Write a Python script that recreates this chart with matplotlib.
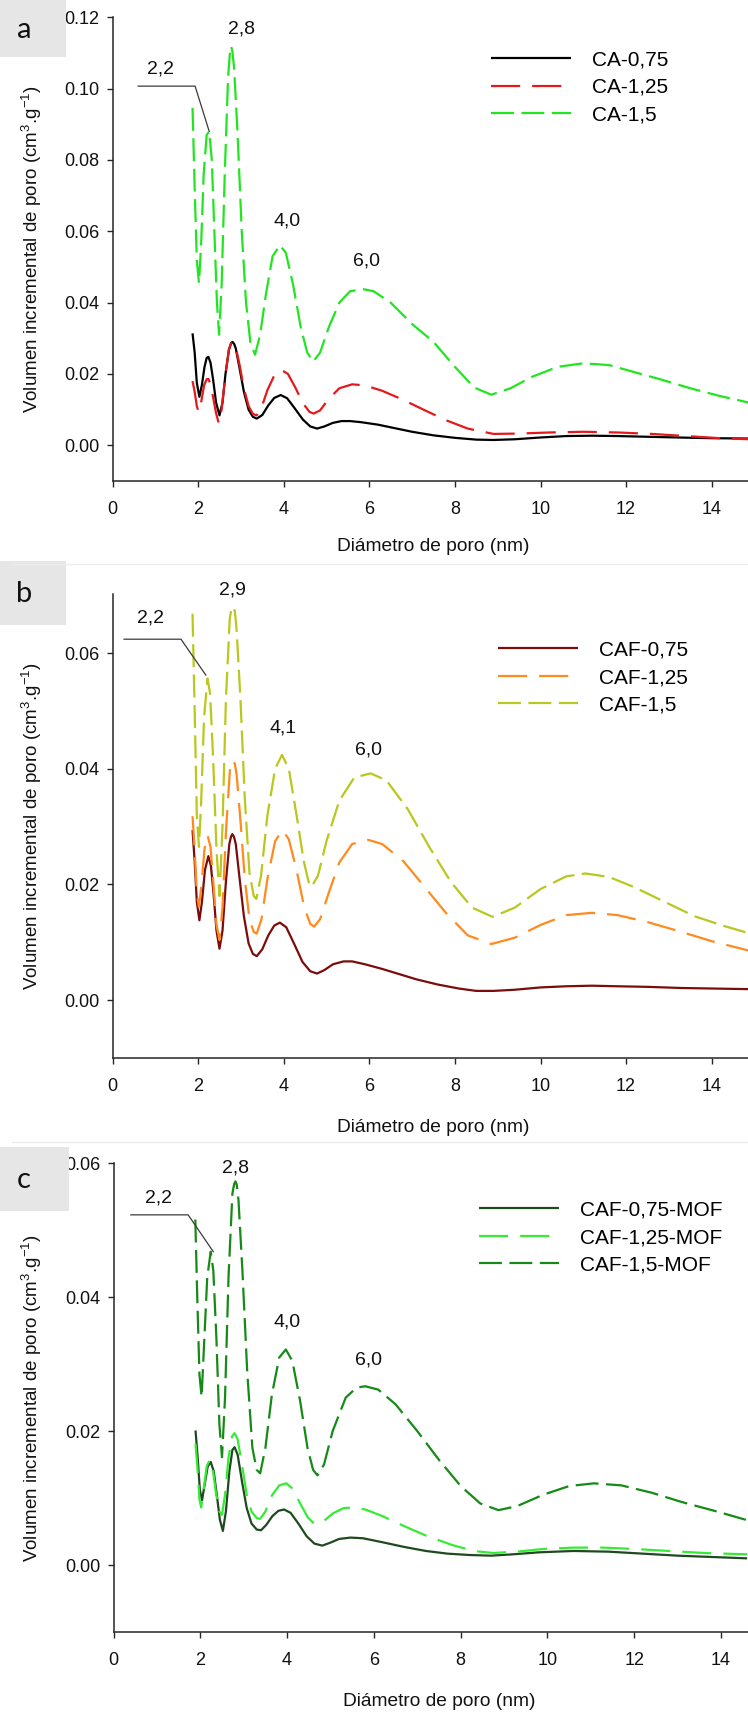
import matplotlib
matplotlib.use("Agg")
import matplotlib.pyplot as plt
from matplotlib.lines import Line2D
from matplotlib.patches import Rectangle

plt.rcParams['font.family'] = ['Liberation Sans', 'DejaVu Sans']
plt.rcParams['mathtext.fontset'] = 'custom'
plt.rcParams['mathtext.rm'] = 'Liberation Sans'
plt.rcParams['mathtext.it'] = 'Liberation Sans:italic'
plt.rcParams['lines.scale_dashes'] = False

# ---------- datos ----------
# panel a
ca075_x = [1.87, 1.92, 1.97, 2.03, 2.09, 2.15, 2.20, 2.24, 2.29, 2.35, 2.42, 2.50, 2.57, 2.64, 2.72,
           2.77, 2.80, 2.84, 2.88, 2.97, 3.07, 3.18, 3.28, 3.37, 3.50, 3.64, 3.78, 3.93, 4.08, 4.25,
           4.45, 4.62, 4.78, 4.95, 5.15, 5.35, 5.55, 5.80, 6.20, 6.60, 7.00, 7.50, 8.00, 8.50, 8.90,
           9.40, 10.0, 10.6, 11.2, 11.8, 12.5, 13.2, 14.0, 14.9]
ca075_y = [0.0314, 0.0260, 0.0175, 0.0136, 0.0170, 0.0220, 0.0245, 0.0248, 0.0232, 0.0185, 0.0120,
           0.0084, 0.0120, 0.0200, 0.0268, 0.0286, 0.0290, 0.0285, 0.0272, 0.0215, 0.0150, 0.0100,
           0.0080, 0.0075, 0.0085, 0.0112, 0.0133, 0.0141, 0.0132, 0.0105, 0.0072, 0.0053, 0.0047,
           0.0053, 0.0063, 0.0068, 0.0068, 0.0065, 0.0058, 0.0048, 0.0038, 0.0028, 0.0021, 0.0016,
           0.0015, 0.0017, 0.0022, 0.0026, 0.0027, 0.0026, 0.0024, 0.0022, 0.0020, 0.0019]

ca125_x = [1.87, 1.92, 1.97, 2.01, 2.07, 2.14, 2.20, 2.24, 2.29, 2.35, 2.42, 2.48, 2.55, 2.63, 2.72,
           2.77, 2.80, 2.84, 2.88, 2.97, 3.07, 3.18, 3.28, 3.37, 3.48, 3.62, 3.78, 3.95, 4.10, 4.28,
           4.45, 4.60, 4.70, 4.85, 5.05, 5.30, 5.60, 5.90, 6.30, 6.80, 7.30, 7.80, 8.30, 8.90, 9.50,
           10.2, 11.0, 11.8, 12.6, 13.4, 14.2, 14.9]
ca125_y = [0.0180, 0.0150, 0.0110, 0.0094, 0.0120, 0.0168, 0.0185, 0.0186, 0.0172, 0.0135, 0.0090,
           0.0063, 0.0100, 0.0190, 0.0268, 0.0286, 0.0290, 0.0286, 0.0275, 0.0225, 0.0160, 0.0110,
           0.0088, 0.0084, 0.0105, 0.0155, 0.0196, 0.0211, 0.0200, 0.0160, 0.0118, 0.0094, 0.0089,
           0.0098, 0.0130, 0.0160, 0.0171, 0.0168, 0.0153, 0.0127, 0.0098, 0.0070, 0.0047, 0.0032,
           0.0033, 0.0036, 0.0038, 0.0036, 0.0032, 0.0026, 0.0020, 0.0017]

ca15_x = [1.87, 1.92, 1.97, 2.02, 2.07, 2.13, 2.20, 2.26, 2.32, 2.38, 2.44, 2.49, 2.55, 2.62, 2.70,
          2.74, 2.77, 2.80, 2.84, 2.92, 3.02, 3.12, 3.22, 3.33, 3.45, 3.58, 3.74, 3.91, 4.05, 4.22,
          4.40, 4.55, 4.69, 4.85, 5.05, 5.30, 5.55, 5.85, 6.10, 6.50, 7.00, 7.50, 8.00, 8.45, 8.85,
          9.30, 9.80, 10.4, 11.0, 11.6, 12.2, 12.8, 13.5, 14.2, 14.9]
ca15_y = [0.0946, 0.0720, 0.0520, 0.0455, 0.0560, 0.0760, 0.0870, 0.0880, 0.0800, 0.0600, 0.0400,
          0.0310, 0.0450, 0.0750, 0.1030, 0.1095, 0.1119, 0.1105, 0.1060, 0.0880, 0.0600, 0.0400,
          0.0290, 0.0254, 0.0310, 0.0420, 0.0530, 0.0561, 0.0540, 0.0450, 0.0330, 0.0260, 0.0235,
          0.0260, 0.0330, 0.0400, 0.0432, 0.0438, 0.0432, 0.0400, 0.0340, 0.0290, 0.0220, 0.0162,
          0.0142, 0.0160, 0.0192, 0.0220, 0.0230, 0.0225, 0.0205, 0.0185, 0.0160, 0.0138, 0.0119]

# panel b
caf075_x = [1.87, 1.92, 1.97, 2.03, 2.09, 2.16, 2.24, 2.30, 2.36, 2.43, 2.50, 2.57, 2.65, 2.73, 2.77,
            2.80, 2.84, 2.88, 2.97, 3.07, 3.18, 3.28, 3.37, 3.50, 3.64, 3.78, 3.91, 4.06, 4.24, 4.44,
            4.62, 4.78, 4.95, 5.15, 5.40, 5.60, 5.90, 6.30, 6.70, 7.10, 7.60, 8.10, 8.50, 8.90, 9.40,
            10.0, 10.6, 11.2, 11.8, 12.5, 13.3, 14.1, 14.9]
caf075_y = [0.0294, 0.0240, 0.0170, 0.0138, 0.0170, 0.0225, 0.0249, 0.0232, 0.0185, 0.0120, 0.0089,
            0.0120, 0.0205, 0.0270, 0.0283, 0.0287, 0.0282, 0.0270, 0.0210, 0.0145, 0.0098, 0.0080,
            0.0076, 0.0088, 0.0112, 0.0129, 0.0134, 0.0126, 0.0098, 0.0066, 0.0050, 0.0046, 0.0052,
            0.0062, 0.0067, 0.0067, 0.0062, 0.0054, 0.0045, 0.0036, 0.0027, 0.0020, 0.0016, 0.0016,
            0.0018, 0.0022, 0.0024, 0.0025, 0.0024, 0.0023, 0.0021, 0.0020, 0.0019]

caf125_x = [1.87, 1.92, 1.97, 2.02, 2.08, 2.15, 2.22, 2.29, 2.36, 2.43, 2.50, 2.57, 2.65, 2.74, 2.78,
            2.82, 2.86, 2.90, 2.99, 3.09, 3.20, 3.30, 3.37, 3.48, 3.62, 3.80, 3.97, 4.12, 4.30, 4.48,
            4.62, 4.71, 4.85, 5.05, 5.30, 5.60, 5.98, 6.30, 6.80, 7.30, 7.80, 8.30, 8.85, 9.40, 10.0,
            10.6, 11.2, 11.8, 12.5, 13.2, 14.0, 14.9]
caf125_y = [0.0318, 0.0260, 0.0185, 0.0161, 0.0200, 0.0262, 0.0285, 0.0265, 0.0200, 0.0130, 0.0104,
            0.0160, 0.0290, 0.0395, 0.0410, 0.0415, 0.0408, 0.0390, 0.0310, 0.0210, 0.0140, 0.0118,
            0.0115, 0.0140, 0.0210, 0.0275, 0.0294, 0.0278, 0.0225, 0.0160, 0.0132, 0.0127, 0.0140,
            0.0185, 0.0238, 0.0270, 0.0277, 0.0270, 0.0240, 0.0195, 0.0150, 0.0112, 0.0097, 0.0108,
            0.0130, 0.0147, 0.0151, 0.0147, 0.0135, 0.0120, 0.0102, 0.0085]

caf15_x = [1.87, 1.92, 1.97, 2.02, 2.07, 2.14, 2.22, 2.28, 2.35, 2.43, 2.50, 2.57, 2.65, 2.74, 2.78,
           2.82, 2.86, 2.90, 2.99, 3.09, 3.20, 3.30, 3.36, 3.47, 3.62, 3.80, 3.96, 4.12, 4.30, 4.47,
           4.58, 4.65, 4.80, 5.00, 5.30, 5.65, 6.03, 6.40, 6.90, 7.40, 7.90, 8.40, 8.88, 9.40, 10.0,
           10.6, 11.05, 11.6, 12.2, 12.9, 13.6, 14.3, 14.9]
caf15_y = [0.0668, 0.0500, 0.0320, 0.0265, 0.0340, 0.0490, 0.0556, 0.0530, 0.0420, 0.0260, 0.0180,
           0.0300, 0.0520, 0.0660, 0.0676, 0.0680, 0.0672, 0.0640, 0.0520, 0.0350, 0.0220, 0.0180,
           0.0175, 0.0215, 0.0320, 0.0400, 0.0424, 0.0400, 0.0320, 0.0240, 0.0205, 0.0196, 0.0215,
           0.0275, 0.0345, 0.0385, 0.0392, 0.0380, 0.0330, 0.0265, 0.0205, 0.0160, 0.0144, 0.0160,
           0.0192, 0.0214, 0.0219, 0.0213, 0.0195, 0.0170, 0.0145, 0.0128, 0.0115]

# panel c
mof075_x = [1.89, 1.94, 1.99, 2.04, 2.10, 2.17, 2.24, 2.31, 2.38, 2.45, 2.52, 2.59, 2.67, 2.74, 2.79,
            2.86, 2.96, 3.07, 3.18, 3.30, 3.40, 3.52, 3.66, 3.80, 3.93, 4.08, 4.26, 4.45, 4.63, 4.81,
            4.98, 5.20, 5.46, 5.75, 6.20, 6.70, 7.20, 7.70, 8.20, 8.70, 9.20, 9.80, 10.6, 11.4, 12.2,
            13.0, 13.8, 14.6]
mof075_y = [0.0201, 0.0160, 0.0112, 0.0097, 0.0120, 0.0147, 0.0154, 0.0140, 0.0105, 0.0068, 0.0051,
            0.0080, 0.0140, 0.0172, 0.0176, 0.0165, 0.0125, 0.0085, 0.0062, 0.0053, 0.0052, 0.0060,
            0.0073, 0.0081, 0.0083, 0.0078, 0.0062, 0.0043, 0.0032, 0.0029, 0.0033, 0.0039, 0.0041,
            0.0040, 0.0034, 0.0027, 0.0021, 0.0017, 0.0015, 0.0014, 0.0016, 0.0019, 0.0021, 0.0020,
            0.0017, 0.0014, 0.0012, 0.0010]

mof125_x = [1.89, 1.94, 1.98, 2.02, 2.08, 2.15, 2.22, 2.29, 2.36, 2.44, 2.50, 2.57, 2.65, 2.73, 2.79,
            2.86, 2.96, 3.07, 3.18, 3.30, 3.38, 3.50, 3.65, 3.82, 3.98, 4.13, 4.30, 4.48, 4.62, 4.70,
            4.85, 5.05, 5.30, 5.52, 5.80, 6.20, 6.70, 7.20, 7.80, 8.30, 8.75, 9.30, 9.90, 10.6, 11.3,
            12.0, 12.8, 13.6, 14.6]
mof125_y = [0.0181, 0.0140, 0.0098, 0.0086, 0.0115, 0.0148, 0.0157, 0.0142, 0.0108, 0.0080, 0.0075,
            0.0105, 0.0160, 0.0192, 0.0197, 0.0188, 0.0150, 0.0105, 0.0080, 0.0070, 0.0069, 0.0080,
            0.0104, 0.0119, 0.0122, 0.0114, 0.0092, 0.0071, 0.0062, 0.0061, 0.0066, 0.0077, 0.0085,
            0.0086, 0.0083, 0.0073, 0.0058, 0.0044, 0.0030, 0.0021, 0.0018, 0.0020, 0.0024, 0.0026,
            0.0026, 0.0024, 0.0021, 0.0018, 0.0016]

mof15_x = [1.885, 1.93, 1.98, 2.03, 2.08, 2.16, 2.24, 2.30, 2.37, 2.44, 2.50, 2.57, 2.65, 2.74, 2.78,
           2.81, 2.84, 2.88, 2.97, 3.08, 3.20, 3.30, 3.38, 3.50, 3.65, 3.82, 3.97, 4.12, 4.30, 4.47,
           4.60, 4.70, 4.85, 5.05, 5.35, 5.60, 5.80, 6.10, 6.50, 7.00, 7.50, 8.00, 8.45, 8.87, 9.30,
           9.90, 10.5, 11.07, 11.7, 12.4, 13.1, 13.9, 14.6]
mof15_y = [0.0516, 0.0400, 0.0285, 0.0251, 0.0320, 0.0430, 0.0468, 0.0440, 0.0340, 0.0210, 0.0161,
           0.0250, 0.0430, 0.0555, 0.0569, 0.0573, 0.0568, 0.0545, 0.0440, 0.0290, 0.0175, 0.0142,
           0.0137, 0.0175, 0.0255, 0.0310, 0.0322, 0.0305, 0.0245, 0.0175, 0.0142, 0.0134, 0.0150,
           0.0200, 0.0250, 0.0265, 0.0267, 0.0262, 0.0240, 0.0200, 0.0157, 0.0118, 0.0092, 0.0082,
           0.0088, 0.0105, 0.0118, 0.0122, 0.0119, 0.0108, 0.0094, 0.0080, 0.0067]

# etiquetas de picos y líneas guía
a_pk_txt = ["2,2", "2,8", "4,0", "6,0"]
a_pk_x = [1.13, 3.02, 4.07, 5.94]
a_pk_y = [0.1055, 0.1166, 0.0630, 0.0517]
a_lead_x = [0.60, 1.93, 2.26]
a_lead_y = [0.1007, 0.1007, 0.0880]

b_pk_txt = ["2,2", "2,9", "4,1", "6,0"]
b_pk_x = [0.88, 2.80, 3.98, 5.98]
b_pk_y = [0.0660, 0.0709, 0.0471, 0.0432]
b_lead_x = [0.27, 1.60, 2.18]
b_lead_y = [0.0624, 0.0624, 0.0562]

c_pk_txt = ["2,2", "2,8", "4,0", "6,0"]
c_pk_x = [1.03, 2.82, 4.00, 5.88]
c_pk_y = [0.0548, 0.0593, 0.0363, 0.0306]
c_lead_x = [0.40, 1.72, 2.30]
c_lead_y = [0.0523, 0.0523, 0.0468]

a_labels = ["CA-0,75", "CA-1,25", "CA-1,5"]
b_labels = ["CAF-0,75", "CAF-1,25", "CAF-1,5"]
c_labels = ["CAF-0,75-MOF", "CAF-1,25-MOF", "CAF-1,5-MOF"]
# ------------------------------------------------

W, H = 748, 1713
fig = plt.figure(figsize=(W / 100, H / 100), dpi=100)

SOLID = (None, None)
DASH_M = (21, 8.6)      # serie 1,25
DASH_S = (16.5, 5.4)    # serie 1,5


def add_ax(left, top, right, bottom):
    return fig.add_axes([left / W, 1 - bottom / H, (right - left) / W, (bottom - top) / H])


def panel(ax, series, labels, ylim, yticks, pk, lead, leg_xy, xlab_y):
    for (x, y, col, dash), lab in zip(series, labels):
        ln, = ax.plot(x, y, color=col, lw=1.6, label=lab, solid_capstyle='butt')
        if dash[0] is not None:
            ln.set_dashes(dash)
    ax.set_xlim(0, 15)
    ax.set_ylim(*ylim)
    ax.set_xticks(range(0, 15, 2))
    ax.set_yticks(yticks)
    ax.set_yticklabels([f"{t:.2f}" for t in yticks])
    for s in ("top", "right"):
        ax.spines[s].set_visible(False)
    for s in ("left", "bottom"):
        ax.spines[s].set_color("#262626")
        ax.spines[s].set_linewidth(1.1)
    ax.tick_params(axis="both", direction="out", length=4.6, width=1.0, color="#262626",
                   labelsize=13, labelcolor="#111111")
    ax.tick_params(axis="x", pad=9.5)
    ax.tick_params(axis="y", pad=5.0)
    ax.set_xlabel("Diámetro de poro (nm)", fontsize=13.8, color="#111111")
    ax.xaxis.set_label_coords(0.5, xlab_y)
    ax.xaxis.label.set_va("center")
    ax.set_ylabel("Volumen incremental de poro (cm$^{3}$.g$^{-1}$)", fontsize=13.5, color="#111111")
    ax.yaxis.set_label_coords(-0.1254, 0.5)
    ax.yaxis.label.set_va("center")
    txt, tx, ty = pk
    for t, xx, yy in zip(txt, tx, ty):
        ax.text(xx, yy, t, ha="center", va="center", fontsize=14, color="#111111", clip_on=False)
    ax.plot(lead[0], lead[1], color="#3a3a3a", lw=0.9, clip_on=False)
    ax.legend(loc="center left", bbox_to_anchor=(leg_xy[0] / W, 1 - leg_xy[1] / H),
              bbox_transform=fig.transFigure, frameon=False, fontsize=15,
              handlelength=3.85, handletextpad=0.98, labelspacing=0.40,
              borderpad=0, borderaxespad=0)


axa = add_ax(112.5, 17.3, 754.5, 481)
panel(axa,
      [(ca075_x, ca075_y, "#000000", SOLID),
       (ca125_x, ca125_y, "#e3191c", DASH_M),
       (ca15_x, ca15_y, "#22e522", DASH_S)],
      a_labels, (-0.01, 0.12), [0.00, 0.02, 0.04, 0.06, 0.08, 0.10, 0.12],
      (a_pk_txt, a_pk_x, a_pk_y), (a_lead_x, a_lead_y), (491, 87.5), -0.1423)

axb = add_ax(112.5, 593.5, 754.5, 1058)
panel(axb,
      [(caf075_x, caf075_y, "#7b0c0c", SOLID),
       (caf125_x, caf125_y, "#ff8a1e", DASH_M),
       (caf15_x, caf15_y, "#b9c81c", DASH_S)],
      b_labels, (-0.01, 0.0703), [0.00, 0.02, 0.04, 0.06],
      (b_pk_txt, b_pk_x, b_pk_y), (b_lead_x, b_lead_y), (498, 677.5), -0.1487)

axc = add_ax(113.5, 1163.3, 764.5, 1632)
panel(axc,
      [(mof075_x, mof075_y, "#1e4a1e", SOLID),
       (mof125_x, mof125_y, "#35ec35", DASH_M),
       (mof15_x, mof15_y, "#168a16", DASH_S)],
      c_labels, (-0.01, 0.06), [0.00, 0.02, 0.04, 0.06],
      (c_pk_txt, c_pk_x, c_pk_y), (c_lead_x, c_lead_y), (479, 1237.5), -0.1490)
axc.yaxis.set_label_coords(-(113.5 - 32) / 651, 0.5)

# cajas grises con la letra del panel
for letra, (x0, y0, x1, y1) in zip("abc", [(0, 0, 66, 57), (0, 561, 66, 625), (0, 1147, 69, 1211)]):
    fig.patches.append(Rectangle((x0 / W, 1 - y1 / H), (x1 - x0) / W, (y1 - y0) / H,
                                 transform=fig.transFigure, facecolor="#e6e6e6",
                                 edgecolor="none", zorder=0))
    fig.text((x0 + 24) / W, 1 - ((y0 + y1) / 2 + 1) / H, letra, ha="center", va="center",
             fontsize=21, family=["Lato", "DejaVu Sans"], color="#111111")

# separadores tenues
for ysep in (564, 1142):
    fig.add_artist(Line2D([12 / W, 1], [1 - ysep / H, 1 - ysep / H], transform=fig.transFigure,
                          color="#ececec", lw=1))

fig.savefig("out.png", dpi=100)
